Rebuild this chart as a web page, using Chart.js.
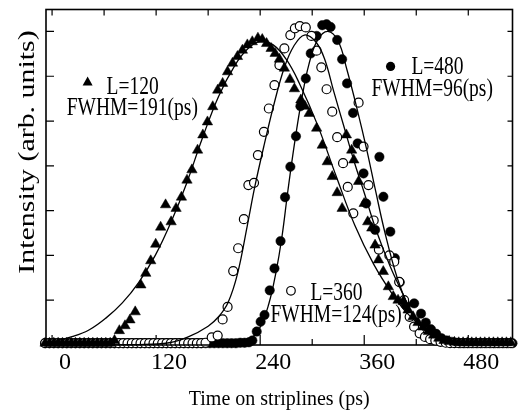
<!DOCTYPE html>
<html>
<head>
<meta charset="utf-8">
<script src="https://cdn.jsdelivr.net/npm/chart.js@4/dist/chart.umd.min.js"></script>
<style>
  html, body { margin: 0; padding: 0; background: #fff; }
  #chart { display: block; }
</style>
</head>
<body>
<canvas id="chart" width="519" height="412"></canvas>
<script>
// x = time on striplines (ps), y = intensity (arb. units)
const xTicks = [0, 60, 120, 180, 240, 300, 360, 420, 480];
const yTicks = [1, 2, 3, 4, 5, 6, 7];

// L=120, triangles
const l120Points = [
  [-8,0.04],[-3,0.04],[2,0.04],[7,0.04],[12,0.04],[17,0.04],[22,0.04],[27,0.04],[32,0.04],[37,0.04],
  [42,0.04],[47,0.04],[52,0.04],[57,0.04],[62,0.04],[67,0.04],[72,0.1],
  [77.6,0.32],[84.1,0.43],[89.8,0.56],[95.9,0.74],[102.4,1.34],[108.1,1.6],[113.8,1.88],[119.5,2.25],
  [125.2,2.63],[130.9,3.13],[137.3,2.75],[143,3.05],[149.2,3.3],[155.6,3.68],[161.3,3.91],[167.8,4.35],
  [173.9,4.69],[179.2,4.98],[185.3,5.32],[191,5.69],[196.7,5.84],[202.4,6.1],[208.1,6.29],[213.8,6.44],
  [219.5,6.58],[225.2,6.7],[230.9,6.77],[237.4,6.85],[242.4,6.82],[247.4,6.73],[252.6,6.62],[257.2,6.51],
  [262.2,6.38],[267.9,6.18],[274.3,5.93],[279.5,5.72],[286.9,5.47],[291.5,5.33],[296.5,5.17],[305.1,4.84],
  [311.6,4.46],[317.4,4.09],[323.1,3.76],[328.8,3.4],[334.5,3.05],[339.4,4.69],[345.5,4.35],[348,4.13],
  [353.5,3.65],[359.9,3.16],[364,2.75],[368.7,2.61],[372.5,2.23],[376.4,1.9],[382,1.64],[387.8,1.3],
  [393.5,1.08],[399,1.0],[404.9,0.97],[410.6,0.78],[416.3,0.63],[422,0.5],[428,0.4],[434,0.3],
  [440,0.22],[446,0.15],[452,0.1],[458,0.08],[464,0.06],[469,0.05],[474,0.05],[479,0.05],[484,0.05],
  [489,0.05],[494,0.05],[499,0.05],[504,0.05],[509,0.05],[514,0.05],[519,0.05],[524,0.05],[529,0.05]
];

// L=360, open circles
const l360Points = [
  [-8,0.04],[-3,0.04],[2,0.04],[7,0.04],[12,0.04],[17,0.04],[22,0.04],[27,0.04],[32,0.04],[37,0.04],
  [42,0.04],[47,0.04],[52,0.04],[57,0.04],[62,0.04],[67,0.04],[72,0.04],[77,0.04],[82,0.04],[87,0.04],
  [92,0.04],[97,0.04],[102,0.04],[107,0.04],[112,0.04],[117,0.04],[122,0.04],[127,0.04],[132,0.04],
  [137,0.04],[142,0.04],[147,0.04],[152,0.04],[157,0.04],[162,0.04],[167,0.04],[172,0.04],[177,0.05],
  [184.1,0.17],[191,0.21],[196.7,0.57],[202.4,0.85],[208.9,1.65],[214.6,2.16],[221.2,2.81],[226.4,3.57],
  [232.9,3.62],[237.4,4.24],[244.3,4.76],[250,5.28],[256.5,5.8],[262.2,6.25],[267.9,6.62],[274.8,6.92],
  [280,7.07],[285.7,7.12],[292.6,7.09],[299.1,6.9],[305.1,6.57],[310.5,6.2],[316.6,5.71],[323.1,5.21],
  [328.8,4.64],[335.6,4.06],[341,3.53],[347.4,2.94],[353.5,5.41],[359.2,4.43],[364.9,3.57],[370.9,2.78],
  [376.9,2.13],[389,2.0],[394.6,1.86],[400.3,1.41],[406,1.0],[412.4,0.63],[417.5,0.41],[423.9,0.26],
  [430,0.18],[436,0.13],[442,0.1],[448,0.07],[454,0.05],[459,0.04],[464,0.04],[469,0.04],[474,0.04],
  [479,0.04],[484,0.04],[489,0.04],[494,0.04],[499,0.04],[504,0.04],[509,0.04],[514,0.04],[519,0.04],
  [524,0.04],[529,0.04]
];

// L=480, filled circles
const l480Points = [
  [-8,0.04],[-3,0.04],[2,0.04],[7,0.04],[12,0.04],[17,0.04],[22,0.04],[27,0.04],[32,0.04],[37,0.04],
  [42,0.04],[47,0.04],[52,0.04],[57,0.04],[62,0.04],[67,0.04],[72,0.04],[77,0.04],[82,0.04],[87,0.04],
  [92,0.04],[97,0.04],[102,0.04],[107,0.04],[112,0.04],[117,0.04],[122,0.04],[127,0.04],[132,0.04],
  [137,0.04],[142,0.04],[147,0.04],[152,0.04],[157,0.04],[162,0.04],[167,0.04],[172,0.04],[177,0.04],
  [182,0.04],[187,0.04],[192,0.04],[197,0.04],[202,0.04],[207,0.04],[212,0.04],[217,0.05],[222,0.05],
  [227,0.06],[231,0.1],
  [236,0.3],[240.5,0.52],[245,0.67],[251,1.22],[256.5,1.71],[263.5,2.32],[268.7,3.3],[274.8,3.98],
  [281.3,4.66],[286.4,5.33],[292.6,5.95],[298.3,6.51],[305.1,6.9],[311.6,7.14],[316.6,7.16],[321.2,7.1],
  [328.8,6.81],[334.5,6.38],[340.2,5.84],[347.1,5.18],[352.4,4.5],[359.2,3.83],[362.2,3.16],[372.6,2.57],
  [377.5,4.2],[382.1,3.31],[390.1,2.53],[395.3,1.94],[401,1.4],[408.1,0.89],[417.6,0.93],[425.5,0.7],
  [431,0.5],[437,0.35],[443,0.25],[449,0.15],[455,0.1],[461,0.07],[466,0.05],[471,0.04],[476,0.04],
  [481,0.04],[486,0.04],[491,0.04],[496,0.04],[501,0.04],[506,0.04],[511,0.04],[516,0.04],[521,0.04],
  [526,0.04],[531,0.04]
];

// fitted curves
const fit120 = [
  [-7,0.05],[0,0.07],[24,0.19],[43,0.34],[62,0.6],[81,0.94],[100,1.4],[119,2.0],[138,2.78],
  [155,3.6],[173,4.6],[192,5.55],[211,6.25],[226,6.62],[240,6.78],[255,6.7],[270,6.38],[285,5.85],
  [306,4.92],[328,3.75],[349,2.68],[371,1.8],[393,1.12],[410,0.7],[430,0.36],[450,0.16],[470,0.07],
  [500,0.03],[531,0.02]
];
const fit360 = [
  [-7,0],[100,0.01],[135,0.05],[157,0.18],[180,0.42],[192,0.63],[203,0.95],[214,1.6],[225,2.65],
  [234,3.55],[245,4.5],[256.5,5.42],[268,6.2],[279,6.68],[291,6.92],[304,6.77],[314,6.4],[325,5.65],
  [337,4.85],[348,4.12],[360,3.4],[374,2.55],[390,1.75],[405,1.12],[418,0.6],[431,0.3],[446,0.14],
  [462,0.07],[485,0.03],[531,0.02]
];
const fit480 = [
  [-7,0],[190,0],[207,0.02],[228,0.13],[240,0.4],[250,0.92],[258,1.6],[265,2.4],[272,3.45],[280,4.55],
  [288,5.5],[296,6.25],[306,6.8],[318,7.0],[330,6.78],[340,6.15],[352,5.25],[363,4.35],[373,3.45],
  [384,2.5],[398,1.5],[411,0.85],[422,0.5],[432,0.3],[443,0.17],[457,0.09],[472,0.05],[500,0.02],
  [531,0.01]
];

const serif = "'Liberation Serif', 'Times New Roman', serif";
const toXY = pts => pts.map(p => ({x: p[0], y: p[1]}));

function fitLine(pts) {
    return {
        data: toXY(pts),
        showLine: true,
        pointRadius: 0,
        borderColor: '#000',
        borderWidth: 1.3,
        tension: 0.4,
        clip: false
    };
}

// stretched text, the picture is taller than it is wide
function drawText(ctx, txt, px, py, align, size, sy) {
    ctx.save();
    ctx.translate(px, py);
    ctx.scale(1, sy);
    ctx.font = size + 'px ' + serif;
    ctx.textAlign = align;
    ctx.textBaseline = 'middle';
    ctx.fillStyle = '#000';
    ctx.fillText(txt, 0, 0);
    ctx.restore();
}

const framePlugin = {
    id: 'frame',
    beforeDatasetsDraw(chart) {
        const {ctx, chartArea: a, scales: {x, y}} = chart;
        ctx.save();
        ctx.strokeStyle = '#000';
        ctx.lineWidth = 1.6;
        ctx.strokeRect(a.left, a.top, a.right - a.left, a.bottom - a.top);
        ctx.lineWidth = 1.2;
        ctx.beginPath();
        xTicks.forEach(v => {
            const px = x.getPixelForValue(v);
            const len = v % 120 === 0 ? 10 : 6;
            ctx.moveTo(px, a.bottom); ctx.lineTo(px, a.bottom - len);
            ctx.moveTo(px, a.top); ctx.lineTo(px, a.top + 6);
        });
        yTicks.forEach(v => {
            const py = y.getPixelForValue(v);
            ctx.moveTo(a.left, py); ctx.lineTo(a.left + 8, py);
            ctx.moveTo(a.right, py); ctx.lineTo(a.right - 5, py);
        });
        ctx.stroke();
        ctx.restore();
    },
    afterDatasetsDraw(chart) {
        const {ctx, scales: {x, y}} = chart;
        const X = v => x.getPixelForValue(v);
        const Y = v => y.getPixelForValue(v);

        // y axis title
        ctx.save();
        ctx.translate(28, 152);
        ctx.rotate(-Math.PI / 2);
        ctx.scale(1.3, 1);
        ctx.font = '23px ' + serif;
        ctx.textAlign = 'center';
        ctx.textBaseline = 'middle';
        ctx.fillStyle = '#000';
        ctx.fillText('Intensity (arb. units)', 0, 0);
        ctx.restore();

        ctx.save();
        ctx.fillStyle = '#000';
        ctx.strokeStyle = '#000';
        // triangle
        let tx = X(41), ty = Y(5.87);
        ctx.beginPath();
        ctx.moveTo(tx, ty - 5.5); ctx.lineTo(tx + 5, ty + 3.5); ctx.lineTo(tx - 5, ty + 3.5);
        ctx.closePath(); ctx.fill();
        // filled dot
        ctx.beginPath();
        ctx.arc(X(390.4), Y(6.22), 4.6, 0, Math.PI * 2);
        ctx.fill();
        // open circle
        ctx.beginPath();
        ctx.lineWidth = 1.2;
        ctx.arc(X(275.5), Y(1.21), 4.3, 0, Math.PI * 2);
        ctx.fillStyle = '#fff'; ctx.fill(); ctx.stroke();
        ctx.restore();

        drawText(ctx, 'L=120', X(62.8), Y(5.76), 'left', 19.5, 1.28);
        drawText(ctx, 'FWHM=191(ps)', X(92.5), Y(5.28), 'center', 19.5, 1.28);
        drawText(ctx, 'L=480', X(414.4), Y(6.2), 'left', 19.5, 1.28);
        drawText(ctx, 'FWHM=96(ps)', X(438.4), Y(5.71), 'center', 19.5, 1.28);
        drawText(ctx, 'L=360', X(297.9), Y(1.16), 'left', 19.5, 1.28);
        drawText(ctx, 'FWHM=124(ps)', X(327.6), Y(0.66), 'center', 19.5, 1.28);
    }
};

const ctx = document.getElementById('chart').getContext('2d');
Chart.defaults.color = '#000';

new Chart(ctx, {
    type: 'scatter',
    data: {
        datasets: [
            fitLine(fit120),
            fitLine(fit360),
            fitLine(fit480),
            {
                data: toXY(l120Points),
                pointStyle: 'triangle',
                pointRadius: 6,
                backgroundColor: '#000',
                borderColor: '#000',
                borderWidth: 0.5,
                clip: false
            },
            {
                data: toXY(l360Points),
                pointStyle: 'circle',
                pointRadius: 4.5,
                backgroundColor: '#fff',
                borderColor: '#000',
                borderWidth: 1.2,
                clip: false
            },
            {
                data: toXY(l480Points),
                pointStyle: 'circle',
                pointRadius: 4.7,
                backgroundColor: '#000',
                borderColor: '#000',
                borderWidth: 0.5,
                clip: false
            }
        ]
    },
    options: {
        responsive: false,
        animation: false,
        events: [],
        layout: { padding: { top: 9.5, right: 2, left: 0, bottom: 0 } },
        plugins: {
            legend: { display: false },
            tooltip: { enabled: false }
        },
        scales: {
            x: {
                type: 'linear',
                min: -7,
                max: 531,
                afterBuildTicks: s => { s.ticks = xTicks.map(v => ({ value: v })); },
                afterFit: s => { s.height = 67; },
                grid: { display: false, drawTicks: false },
                border: { display: false },
                ticks: {
                    autoSkip: false,
                    maxRotation: 0,
                    padding: 3,
                    labelOffset: 13,
                    font: { family: serif, size: 24 },
                    callback: v => (v % 120 === 0 ? String(v) : '')
                },
                title: {
                    display: true,
                    text: 'Time on striplines (ps)',
                    font: { family: serif, size: 20, lineHeight: 1.2 },
                    padding: { top: 0, bottom: 0 }
                }
            },
            y: {
                min: 0,
                max: 7.49,
                afterFit: s => { s.width = 46; },
                grid: { display: false, drawTicks: false },
                border: { display: false },
                ticks: { display: false }
            }
        }
    },
    plugins: [framePlugin]
});
</script>
</body>
</html>
